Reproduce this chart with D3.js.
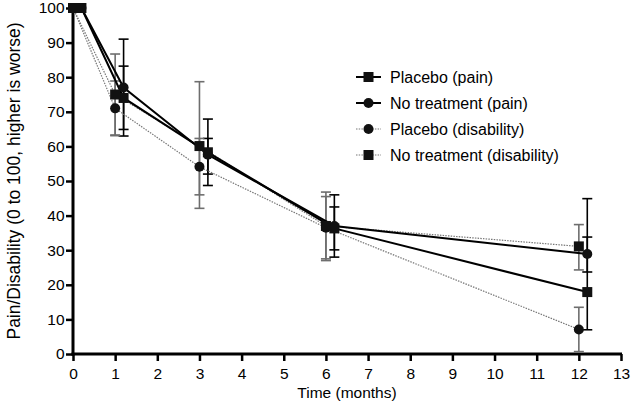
<!DOCTYPE html>
<html>
<head>
<meta charset="utf-8">
<script src="https://cdn.jsdelivr.net/npm/d3@7"></script>
<style>
  html, body { margin: 0; padding: 0; background: #fff; }
  svg { display: block; font-family: "Liberation Sans", Arial, Helvetica, sans-serif; }
</style>
</head>
<body>
<svg id="chart" width="631" height="410"></svg>
<script>
// ---- data ----
const months = [0, 1, 3, 6, 12];
const painOffset = 0.2; // pain series drawn slightly right of each time point

const placeboPain     = [100, 74.0, 58.3, 36.3, 17.9];
const placeboPainLow  = [100, 64.9, 48.7, 30.1, 7.0];
const placeboPainHigh = [100, 83.2, 67.9, 42.5, 33.8];

const noTreatPain     = [100, 77.0, 57.6, 37.0, 28.9];
const noTreatPainLow  = [100, 63.0, 52.0, 28.0, 23.7];
const noTreatPainHigh = [100, 91.0, 62.3, 46.0, 44.9];

const placeboDis      = [100, 71.0, 54.1, 36.5, 7.1];
const placeboDisLow   = [100, 63.1, 46.0, 27.5, 0.7];
const placeboDisHigh  = [100, 78.9, 62.3, 45.5, 13.5];

const noTreatDis      = [100, 75.0, 60.1, 37.0, 31.1];
const noTreatDisLow   = [100, 63.3, 42.1, 27.0, 24.3];
const noTreatDisHigh  = [100, 86.7, 78.7, 46.8, 37.4];

const xTicks = d3.range(0, 14);
const yTicks = d3.range(0, 101, 10);
const seriesNames = ["Placebo (pain)", "No treatment (pain)", "Placebo (disability)", "No treatment (disability)"];

// ---- build series ----
const series = [
  { name: seriesNames[0], vals: placeboPain, low: placeboPainLow, high: placeboPainHigh, off: painOffset, shape: "square", dotted: false },
  { name: seriesNames[1], vals: noTreatPain, low: noTreatPainLow, high: noTreatPainHigh, off: painOffset, shape: "circle", dotted: false },
  { name: seriesNames[2], vals: placeboDis, low: placeboDisLow, high: placeboDisHigh, off: 0, shape: "circle", dotted: true },
  { name: seriesNames[3], vals: noTreatDis, low: noTreatDisLow, high: noTreatDisHigh, off: 0, shape: "square", dotted: true }
].map(s => ({ ...s, pts: months.map((m, i) => ({ x: m + s.off, y: s.vals[i], lo: s.low[i], hi: s.high[i] })) }));

const svg = d3.select("#chart");
const x = d3.scaleLinear().domain([0, 13]).range([73, 621]);
const y = d3.scaleLinear().domain([0, 100]).range([354, 8]);

// ---- axes ----
const gx = svg.append("g").attr("transform", `translate(0,${y(0)})`)
  .call(d3.axisBottom(x).tickValues(xTicks).tickFormat(d3.format("d")).tickSize(7).tickSizeOuter(0));
const gy = svg.append("g").attr("transform", `translate(${x(0)},0)`)
  .call(d3.axisLeft(y).tickValues(yTicks).tickFormat(d3.format("d")).tickSize(7).tickSizeOuter(0));
[gx, gy].forEach(g => {
  g.select(".domain").attr("stroke", "#000").attr("stroke-width", 3);
  g.selectAll(".tick line").attr("stroke", "#000").attr("stroke-width", 2.5);
  g.selectAll(".tick text").attr("fill", "#000").attr("font-size", 15.5)
    .attr("font-family", "Liberation Sans, Arial, sans-serif");
});
gx.selectAll(".tick text").attr("dy", "0.95em");
gy.selectAll(".tick text").attr("dx", "0.1em");
// extend domains so they meet at the corner
gx.select(".domain").attr("d", `M${x(0) - 1.5},0H${x(13) + 1}`);
gy.select(".domain").attr("d", `M0,${y(100)}V${y(0) + 1.5}`);

svg.append("text").attr("x", (x(0) + x(13)) / 2).attr("y", 398).attr("text-anchor", "middle")
  .attr("font-size", 15.5).attr("fill", "#000").text("Time (months)");
svg.append("text").attr("transform", `translate(20,${(y(0) + y(100)) / 2}) rotate(-90)`)
  .attr("text-anchor", "middle").attr("font-size", 17.5).attr("fill", "#000")
  .text("Pain/Disability (0 to 100, higher is worse)");

// ---- error bars ----
const capW = 5;
series.forEach(s => {
  const col = s.dotted ? "#6e6e6e" : "#000";
  const g = svg.append("g").attr("stroke", col).attr("stroke-width", 1.6).attr("fill", "none");
  s.pts.filter(p => p.hi !== p.lo).forEach(p => {
    const px = x(p.x);
    g.append("line").attr("x1", px).attr("x2", px).attr("y1", y(p.lo)).attr("y2", y(p.hi));
    g.append("line").attr("x1", px - capW).attr("x2", px + capW).attr("y1", y(p.lo)).attr("y2", y(p.lo));
    g.append("line").attr("x1", px - capW).attr("x2", px + capW).attr("y1", y(p.hi)).attr("y2", y(p.hi));
  });
});

// ---- lines ----
const line = d3.line().x(d => x(d.x)).y(d => y(d.y));
series.filter(s => s.dotted).concat(series.filter(s => !s.dotted)).forEach(s => {
  svg.append("path").datum(s.pts).attr("d", line).attr("fill", "none")
    .attr("stroke", s.dotted ? "#777" : "#000")
    .attr("stroke-width", s.dotted ? 1.2 : 2)
    .attr("stroke-dasharray", s.dotted ? "1.5,1.2" : null);
});

// ---- markers ----
function drawMarker(g, shape, cx, cy) {
  if (shape === "square") {
    g.append("rect").attr("x", cx - 5).attr("y", cy - 5).attr("width", 10).attr("height", 10).attr("fill", "#111");
  } else {
    g.append("circle").attr("cx", cx).attr("cy", cy).attr("r", 5).attr("fill", "#111");
  }
}
series.forEach(s => {
  const g = svg.append("g");
  s.pts.forEach(p => drawMarker(g, s.shape, x(p.x), y(p.y)));
});

// ---- legend ----
const legend = svg.append("g");
series.forEach((s, i) => {
  const ly = 77 + i * 26;
  legend.append("line").attr("x1", 356).attr("x2", 381).attr("y1", ly).attr("y2", ly)
    .attr("stroke", s.dotted ? "#777" : "#000").attr("stroke-width", s.dotted ? 1.2 : 2)
    .attr("stroke-dasharray", s.dotted ? "1.5,1.2" : null);
  drawMarker(legend, s.shape, 368.5, ly);
  legend.append("text").attr("x", 390).attr("y", ly).attr("dy", "0.36em")
    .attr("font-size", 16).attr("fill", "#000").text(s.name);
});
</script>
</body>
</html>
